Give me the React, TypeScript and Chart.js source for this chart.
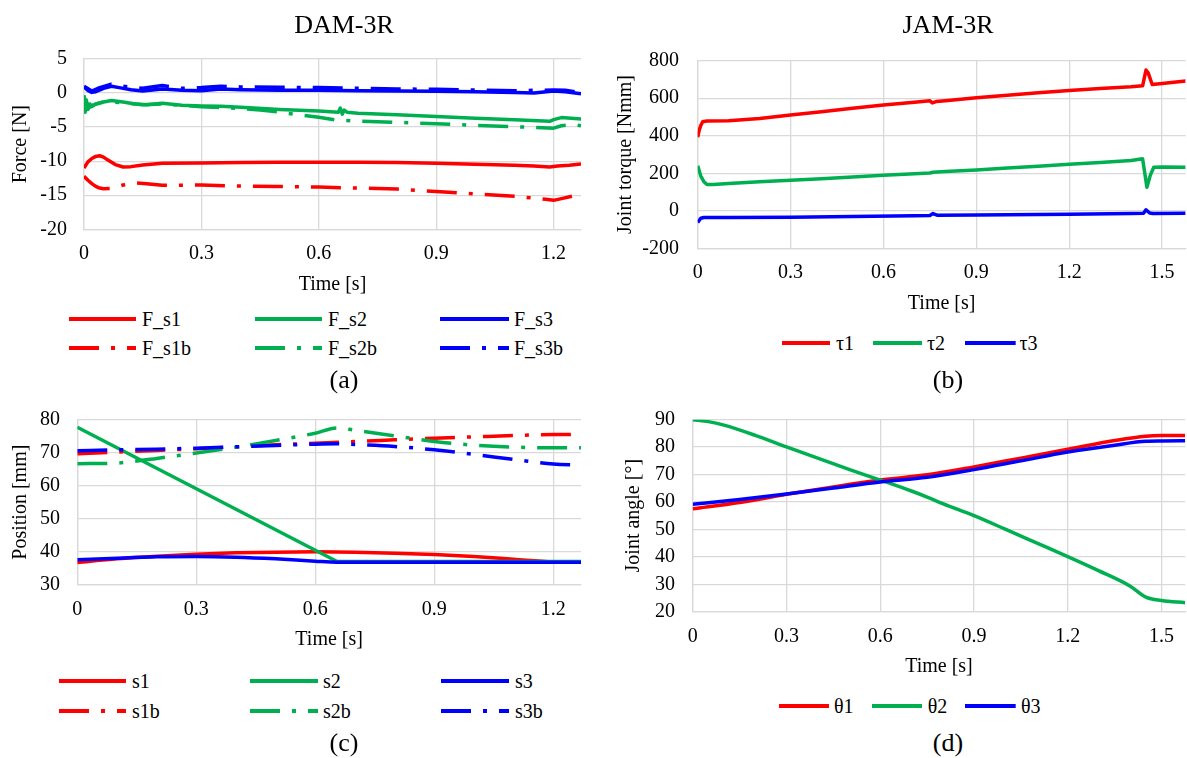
import React, { useEffect, useRef } from "react";
import { Chart, registerables } from "chart.js";

Chart.register(...registerables);

const FONT = "'Liberation Serif', 'Times New Roman', Times, serif";
const RED = "#FF0000";
const GREEN = "#00B050";
const BLUE = "#0000FF";
const GRID = "#D9D9D9";
const TEXT = "#000000";
const DASH_DOT = [30, 12, 4, 12];

// ---------- (a) DAM-3R : Force [N] ----------
const FS1_T = [0, 0.01, 0.02, 0.03, 0.04, 0.05, 0.06, 0.08, 0.1, 0.12, 0.15, 0.2, 0.3, 0.4, 0.5, 0.6, 0.7, 0.8, 0.9, 1.0, 1.1, 1.15, 1.19, 1.21, 1.24, 1.27];
const FS1_V = [-11.0, -10.1, -9.6, -9.3, -9.2, -9.4, -9.8, -10.5, -10.85, -10.8, -10.55, -10.3, -10.25, -10.2, -10.15, -10.15, -10.15, -10.2, -10.3, -10.45, -10.6, -10.7, -10.85, -10.7, -10.6, -10.4];
const FS2_T = [0, 0.003, 0.006, 0.01, 0.015, 0.02, 0.03, 0.05, 0.07, 0.1, 0.13, 0.16, 0.2, 0.25, 0.3, 0.35, 0.4, 0.5, 0.6, 0.65, 0.655, 0.66, 0.665, 0.672, 0.7, 0.8, 0.9, 1.0, 1.1, 1.19, 1.2, 1.22, 1.27];
const FS2_V = [-0.3, -2.8, -1.0, -2.4, -1.6, -2.0, -1.6, -1.3, -1.1, -1.3, -1.6, -1.7, -1.5, -1.8, -1.9, -1.95, -2.1, -2.4, -2.65, -2.8, -2.2, -3.1, -2.5, -2.8, -2.95, -3.2, -3.45, -3.7, -3.9, -4.15, -3.9, -3.6, -3.8];
const FS3_T = [0, 0.01, 0.02, 0.03, 0.05, 0.07, 0.09, 0.12, 0.15, 0.2, 0.25, 0.3, 0.35, 0.4, 0.45, 0.5, 0.6, 0.7, 0.8, 0.9, 1.0, 1.1, 1.15, 1.2, 1.23, 1.27];
const FS3_V = [0.9, 0.4, 0.1, 0.2, 0.7, 1.0, 0.8, 0.5, 0.3, 0.6, 0.4, 0.35, 0.6, 0.5, 0.45, 0.4, 0.4, 0.35, 0.3, 0.25, 0.2, 0.1, 0.0, 0.3, 0.2, -0.1];
const FS1B_T = [0, 0.01, 0.02, 0.03, 0.04, 0.05, 0.07, 0.1, 0.13, 0.16, 0.2, 0.3, 0.4, 0.5, 0.6, 0.7, 0.8, 0.9, 1.0, 1.1, 1.18, 1.2, 1.22, 1.25, 1.27];
const FS1B_V = [-12.2, -12.8, -13.3, -13.7, -13.95, -14.05, -14.0, -13.5, -13.2, -13.3, -13.55, -13.5, -13.65, -13.7, -13.8, -13.95, -14.1, -14.45, -14.8, -15.15, -15.6, -15.75, -15.5, -15.1, -14.85];
const FS2B_T = [0, 0.01, 0.02, 0.05, 0.1, 0.15, 0.2, 0.3, 0.4, 0.45, 0.5, 0.55, 0.6, 0.65, 0.7, 0.8, 0.9, 1.0, 1.1, 1.2, 1.22, 1.25, 1.27];
const FS2B_V = [-0.5, -2.3, -1.8, -1.3, -1.4, -1.7, -1.6, -2.0, -2.25, -2.5, -2.8, -3.2, -3.55, -4.0, -4.1, -4.3, -4.5, -4.75, -4.95, -5.15, -4.8, -4.6, -4.8];
const FS3B_T = [0, 0.02, 0.04, 0.07, 0.1, 0.15, 0.2, 0.25, 0.3, 0.35, 0.4, 0.5, 0.6, 0.7, 0.8, 0.9, 1.0, 1.1, 1.2, 1.23, 1.27];
const FS3B_V = [1.0, 0.3, 0.8, 1.3, 1.0, 0.7, 1.1, 0.7, 0.8, 1.0, 0.9, 0.85, 0.8, 0.7, 0.6, 0.55, 0.45, 0.35, 0.45, 0.4, 0.05];

// ---------- (b) JAM-3R : Joint torque [Nmm] ----------
const TAU1_T = [0, 0.005, 0.01, 0.016, 0.03, 0.1, 0.2, 0.3, 0.4, 0.5, 0.6, 0.7, 0.75, 0.758, 0.77, 0.8, 0.9, 1.0, 1.1, 1.2, 1.3, 1.4, 1.437, 1.448, 1.455, 1.468, 1.5, 1.576];
const TAU1_V = [393, 430, 455, 475, 479, 480, 492, 510, 528, 546, 564, 578, 586, 575, 582, 586, 603, 616, 629, 641, 652, 661, 666, 750, 735, 673, 679, 692];
const TAU2_T = [0, 0.01, 0.02, 0.03, 0.05, 0.1, 0.2, 0.3, 0.4, 0.5, 0.6, 0.7, 0.75, 0.76, 0.8, 0.9, 1.0, 1.1, 1.2, 1.3, 1.4, 1.437, 1.451, 1.462, 1.473, 1.5, 1.576];
const TAU2_V = [240, 185, 155, 140, 140, 145, 155, 163, 171, 180, 189, 197, 201, 205, 209, 218, 228, 238, 248, 258, 268, 277, 125, 190, 232, 234, 232];
const TAU3_T = [0, 0.01, 0.02, 0.1, 0.3, 0.5, 0.7, 0.75, 0.76, 0.775, 0.9, 1.0, 1.2, 1.4, 1.44, 1.448, 1.46, 1.47, 1.576];
const TAU3_V = [-62, -40, -36, -36, -34, -30, -26, -25, -15, -24, -23, -21, -18, -15, -13, 5, -12, -15, -13];

// ---------- (c) Position [mm] ----------
const S1_T = [0, 0.1, 0.2, 0.3, 0.4, 0.5, 0.6, 0.7, 0.8, 0.9, 1.0, 1.1, 1.2, 1.27];
const S1_V = [36.8, 37.9, 38.7, 39.3, 39.7, 39.9, 40.0, 39.9, 39.6, 39.2, 38.6, 37.8, 37.0, 36.9];
const S2_T = [0, 0.655, 1.27];
const S2_V = [77.6, 37.1, 37.1];
const S3_T = [0, 0.1, 0.2, 0.3, 0.4, 0.5, 0.6, 0.655, 0.7, 1.27];
const S3_V = [37.6, 38.1, 38.5, 38.6, 38.4, 37.9, 37.2, 36.9, 36.9, 36.9];
const S1B_T = [0, 0.1, 0.2, 0.3, 0.4, 0.5, 0.6, 0.7, 0.8, 0.9, 1.0, 1.1, 1.2, 1.27];
const S1B_V = [69.6, 70.1, 70.6, 71.1, 71.7, 72.3, 72.8, 73.3, 73.8, 74.3, 74.7, 75.1, 75.4, 75.4];
const S2B_T = [0, 0.1, 0.15, 0.2, 0.3, 0.4, 0.5, 0.6, 0.655, 0.7, 0.8, 0.9, 1.0, 1.1, 1.2, 1.27];
const S2B_V = [66.6, 66.8, 67.4, 68.2, 69.8, 71.6, 73.6, 75.8, 77.4, 76.7, 75.0, 73.3, 72.2, 71.6, 71.4, 71.4];
const S3B_T = [0, 0.1, 0.2, 0.3, 0.4, 0.5, 0.6, 0.655, 0.7, 0.8, 0.9, 1.0, 1.1, 1.2, 1.27];
const S3B_V = [70.5, 70.8, 71.0, 71.3, 71.7, 72.1, 72.5, 72.6, 72.4, 71.8, 70.8, 69.4, 67.9, 66.5, 66.2];

// ---------- (d) Joint angle [°] ----------
const TH1_T = [0, 0.15, 0.3, 0.45, 0.6, 0.75, 0.9, 1.05, 1.2, 1.35, 1.45, 1.5, 1.576];
const TH1_V = [57.5, 59.8, 62.8, 65.5, 68.0, 69.9, 72.8, 76.0, 79.2, 82.4, 84.0, 84.2, 84.2];
const TH2_T = [0, 0.05, 0.1, 0.2, 0.3, 0.4, 0.5, 0.6, 0.7, 0.75, 0.8, 0.9, 1.0, 1.1, 1.2, 1.3, 1.4, 1.45, 1.5, 1.576];
const TH2_V = [90, 89.3, 88, 84.3, 80.1, 76, 71.9, 68, 64, 61.8, 59.4, 55, 50.1, 45.1, 40.1, 34.9, 29.3, 25.3, 24.1, 23.3];
const TH3_T = [0, 0.15, 0.3, 0.45, 0.6, 0.75, 0.9, 1.05, 1.2, 1.35, 1.45, 1.5, 1.576];
const TH3_V = [59.2, 60.9, 62.9, 65.1, 67.3, 69.0, 71.8, 75.0, 78.2, 80.7, 82.1, 82.2, 82.3];

type Series = { name: string; t: number[]; v: number[]; color: string; dash: boolean; smooth: boolean };

const SERIES_A: Series[] = [
  { name: "F_s1", t: FS1_T, v: FS1_V, color: RED, dash: false, smooth: false },
  { name: "F_s2", t: FS2_T, v: FS2_V, color: GREEN, dash: false, smooth: false },
  { name: "F_s3", t: FS3_T, v: FS3_V, color: BLUE, dash: false, smooth: false },
  { name: "F_s1b", t: FS1B_T, v: FS1B_V, color: RED, dash: true, smooth: false },
  { name: "F_s2b", t: FS2B_T, v: FS2B_V, color: GREEN, dash: true, smooth: false },
  { name: "F_s3b", t: FS3B_T, v: FS3B_V, color: BLUE, dash: true, smooth: false },
];
const SERIES_B: Series[] = [
  { name: "τ1", t: TAU1_T, v: TAU1_V, color: RED, dash: false, smooth: false },
  { name: "τ2", t: TAU2_T, v: TAU2_V, color: GREEN, dash: false, smooth: false },
  { name: "τ3", t: TAU3_T, v: TAU3_V, color: BLUE, dash: false, smooth: false },
];
const SERIES_C: Series[] = [
  { name: "s1", t: S1_T, v: S1_V, color: RED, dash: false, smooth: true },
  { name: "s2", t: S2_T, v: S2_V, color: GREEN, dash: false, smooth: false },
  { name: "s3", t: S3_T, v: S3_V, color: BLUE, dash: false, smooth: true },
  { name: "s1b", t: S1B_T, v: S1B_V, color: RED, dash: true, smooth: true },
  { name: "s2b", t: S2B_T, v: S2B_V, color: GREEN, dash: true, smooth: true },
  { name: "s3b", t: S3B_T, v: S3B_V, color: BLUE, dash: true, smooth: true },
];
const SERIES_D: Series[] = [
  { name: "θ1", t: TH1_T, v: TH1_V, color: RED, dash: false, smooth: true },
  { name: "θ2", t: TH2_T, v: TH2_V, color: GREEN, dash: false, smooth: true },
  { name: "θ3", t: TH3_T, v: TH3_V, color: BLUE, dash: false, smooth: true },
];

type Panel = {
  id: string; series: Series[]; left: number; top: number; w: number; h: number;
  padTop: number; padRight: number; yW: number; xH: number;
  xTickPad: number; xTitlePad: number; yTickPad: number; yTitlePad: number;
  yTitle: string; yMin: number; yMax: number; yStep: number; xMax: number;
};

const PANELS: Panel[] = [
  { id: "a", series: SERIES_A, left: 0, top: 30, w: 600, h: 270, padTop: 13.3, padRight: 19, yW: 84, xH: 70.7, xTickPad: 12.7, xTitlePad: 3, yTickPad: 17, yTitlePad: 9, yTitle: "Force [N]", yMin: -20, yMax: 5, yStep: 5, xMax: 1.27 },
  { id: "b", series: SERIES_B, left: 600, top: 30, w: 587, h: 290, padTop: 13.3, padRight: 0, yW: 97.7, xH: 71.7, xTickPad: 12.4, xTitlePad: 4.7, yTickPad: 18.7, yTitlePad: 13.5, yTitle: "Joint torque [Nmm]", yMin: -200, yMax: 800, yStep: 200, xMax: 1.576 },
  { id: "c", series: SERIES_C, left: 0, top: 390, w: 600, h: 265, padTop: 18.3, padRight: 19, yW: 77.3, xH: 70, xTickPad: 13, xTitlePad: 3, yTickPad: 17.3, yTitlePad: 9, yTitle: "Position [mm]", yMin: 30, yMax: 80, yStep: 10, xMax: 1.27 },
  { id: "d", series: SERIES_D, left: 600, top: 390, w: 587, h: 290, padTop: 18, padRight: 0, yW: 92.7, xH: 68.3, xTickPad: 13, xTitlePad: 1.3, yTickPad: 17.7, yTitlePad: 21.7, yTitle: "Joint angle [°]", yMin: 20, yMax: 90, yStep: 10, xMax: 1.576 },
];

function fmtX(v: any) {
  const n = Math.round(Number(v) * 10) / 10;
  return Math.abs(n) < 1e-9 ? "0" : String(n);
}
function fmtY(v: any) {
  return String(Math.round(Number(v)));
}

function buildConfig(p: Panel): any {
  const n = p.series.length;
  const tickFont = { family: FONT, size: 20 };
  return {
    type: "line",
    data: {
      datasets: p.series.map((s, i) => ({
        label: s.name,
        data: s.t.map((t, k) => ({ x: t, y: s.v[k] })),
        borderColor: s.color,
        backgroundColor: s.color,
        borderWidth: 3.5,
        borderDash: s.dash ? DASH_DOT : [],
        borderCapStyle: "butt",
        borderJoinStyle: "round",
        pointRadius: 0,
        pointHoverRadius: 0,
        fill: false,
        tension: 0,
        cubicInterpolationMode: s.smooth ? "monotone" : "default",
        order: n - i,
      })),
    },
    options: {
      animation: false,
      responsive: false,
      maintainAspectRatio: false,
      devicePixelRatio: 1,
      events: [],
      layout: { padding: { top: p.padTop, right: p.padRight, left: 0, bottom: 0 } },
      plugins: { legend: { display: false }, title: { display: false }, tooltip: { enabled: false } },
      scales: {
        x: {
          type: "linear",
          min: 0,
          max: p.xMax,
          ticks: { stepSize: 0.3, includeBounds: false, padding: p.xTickPad, font: tickFont, color: TEXT, maxRotation: 0, autoSkip: false, callback: fmtX },
          grid: { color: GRID, lineWidth: 1.3, drawTicks: false },
          border: { color: GRID, width: 1.3 },
          title: { display: true, text: "Time [s]", font: tickFont, color: TEXT, padding: { top: 0, bottom: p.xTitlePad } },
          afterFit: (s: any) => { s.height = p.xH; },
        },
        y: {
          type: "linear",
          min: p.yMin,
          max: p.yMax,
          ticks: { stepSize: p.yStep, padding: p.yTickPad, font: tickFont, color: TEXT, callback: fmtY },
          grid: { color: GRID, lineWidth: 1.3, drawTicks: false },
          border: { color: GRID, width: 1.3 },
          title: { display: true, text: p.yTitle, font: tickFont, color: TEXT, padding: { top: p.yTitlePad, bottom: 0 } },
          afterFit: (s: any) => { s.width = p.yW; },
        },
      },
    },
  };
}

function ChartPanel({ p }: { p: Panel }) {
  const ref = useRef<HTMLCanvasElement>(null);
  useEffect(() => {
    const chart = new Chart(ref.current as HTMLCanvasElement, buildConfig(p));
    return () => chart.destroy();
  }, [p]);
  return (
    <canvas
      ref={ref}
      width={p.w}
      height={p.h}
      style={{ position: "absolute", left: p.left, top: p.top, width: p.w, height: p.h }}
    />
  );
}

function Label({ text, x, y, size }: { text: string; x: number; y: number; size: number }) {
  return (
    <div style={{ position: "absolute", left: x, top: y, transform: "translate(-50%, -50%)", fontSize: size, lineHeight: 1, whiteSpace: "nowrap", fontFamily: FONT, color: TEXT }}>
      {text}
    </div>
  );
}

type LegendSlot = { x1: number; x2: number; tx: number; y: number };

// legend slot geometry (row-major, same order as series)
const LEG_A: LegendSlot[] = [
  { x1: 69, x2: 136, tx: 142, y: 319 }, { x1: 254.5, x2: 321.5, tx: 328, y: 319 }, { x1: 440, x2: 509, tx: 514, y: 319 },
  { x1: 69, x2: 136, tx: 142, y: 348 }, { x1: 254.5, x2: 321.5, tx: 328, y: 348 }, { x1: 440, x2: 509, tx: 514, y: 348 },
];
const LEG_B: LegendSlot[] = [
  { x1: 781.6, x2: 830, tx: 836, y: 342.7 }, { x1: 872.7, x2: 922, tx: 927, y: 342.7 }, { x1: 965, x2: 1015.7, tx: 1019.5, y: 342.7 },
];
const LEG_C: LegendSlot[] = [
  { x1: 59, x2: 126, tx: 132, y: 681 }, { x1: 250, x2: 318, tx: 323, y: 681 }, { x1: 441, x2: 509, tx: 515, y: 681 },
  { x1: 59, x2: 126, tx: 132, y: 711 }, { x1: 250, x2: 318, tx: 323, y: 711 }, { x1: 441, x2: 509, tx: 515, y: 711 },
];
const LEG_D: LegendSlot[] = [
  { x1: 779, x2: 829, tx: 834, y: 705.7 }, { x1: 871.5, x2: 922, tx: 927.7, y: 705.7 }, { x1: 965, x2: 1015.7, tx: 1021, y: 705.7 },
];

function Legend({ series, slots }: { series: Series[]; slots: LegendSlot[] }) {
  return (
    <>
      {series.map((s, i) => {
        const sl = slots[i];
        const w = sl.x2 - sl.x1;
        return (
          <React.Fragment key={s.name}>
            <svg width={w} height={8} style={{ position: "absolute", left: sl.x1, top: sl.y - 4 }}>
              <line x1={0} y1={4} x2={w} y2={4} stroke={s.color} strokeWidth={4} strokeDasharray={s.dash ? DASH_DOT.join(" ") : undefined} />
            </svg>
            <div style={{ position: "absolute", left: sl.tx, top: sl.y, transform: "translateY(-50%)", fontSize: 20, lineHeight: 1, whiteSpace: "nowrap", fontFamily: FONT, color: TEXT }}>
              {s.name}
            </div>
          </React.Fragment>
        );
      })}
    </>
  );
}

export default function App() {
  return (
    <div style={{ position: "absolute", left: 0, top: 0, width: 1187, height: 758, overflow: "hidden", background: "#FFFFFF", fontFamily: FONT }}>
      {PANELS.map((p) => (
        <ChartPanel key={p.id} p={p} />
      ))}
      <Label text="DAM-3R" x={344} y={25} size={26} />
      <Label text="JAM-3R" x={948} y={25} size={26} />
      <Legend series={SERIES_A} slots={LEG_A} />
      <Legend series={SERIES_B} slots={LEG_B} />
      <Legend series={SERIES_C} slots={LEG_C} />
      <Legend series={SERIES_D} slots={LEG_D} />
      <Label text="(a)" x={344} y={380} size={26} />
      <Label text="(b)" x={948} y={380} size={26} />
      <Label text="(c)" x={344} y={743} size={26} />
      <Label text="(d)" x={948} y={743} size={26} />
    </div>
  );
}
